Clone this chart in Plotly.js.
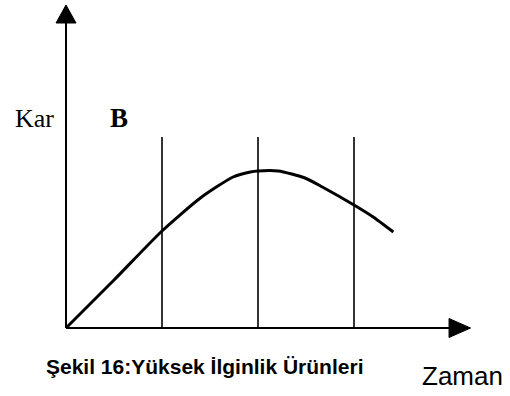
<!DOCTYPE html>
<html>
<head>
<meta charset="utf-8">
<script src="https://cdn.plot.ly/plotly-3.0.1.min.js"></script>
<style>
  html, body { margin: 0; padding: 0; background: #fff; }
  #chart { width: 510px; height: 396px; }
</style>
</head>
<body>
<div id="chart"></div>
<script>
// Profit (Kar) over time (Zaman) for high-involvement products
const time = [0, 0.5, 1.0, 1.4, 1.74, 1.92, 2.0, 2.21, 2.49, 2.67, 3.0, 3.2, 3.41];
const profit = [0, 4.8, 9.7, 13.0, 15.1, 15.6, 15.7, 15.7, 15.0, 14.1, 12.3, 11.1, 9.6];
// Stage boundaries drawn as vertical lines
const stageBoundaries = [1, 2, 3];
const stageLineTop = 19.1;
const yAxisLabel = 'Kar';
const xAxisLabel = 'Zaman';
const panelLetter = 'B';
const caption = 'Şekil 16:Yüksek İlginlik Ürünleri';

const xRange = [-0.6875, 4.625];
const yRange = [-6.8, 32.8];
const xArrowTip = 4.214, xArrowBase = 3.99;
const yArrowTip = 32.3, yArrowBase = 30.5;

const shapes = [];
// axes
shapes.push({type: 'line', x0: 0, x1: xArrowBase, y0: 0, y1: 0, line: {color: '#000', width: 2}});
shapes.push({type: 'line', x0: 0, x1: 0, y0: 0, y1: yArrowBase, line: {color: '#000', width: 2}});
// arrowheads
shapes.push({type: 'path', path: `M ${xArrowBase} 0.95 L ${xArrowTip} 0 L ${xArrowBase} -0.95 Z`,
  fillcolor: '#000', line: {color: '#000', width: 1}});
shapes.push({type: 'path', path: `M -0.104 ${yArrowBase} L 0 ${yArrowTip} L 0.104 ${yArrowBase} Z`,
  fillcolor: '#000', line: {color: '#000', width: 1}});
// stage boundaries
stageBoundaries.forEach(t => {
  shapes.push({type: 'line', x0: t, x1: t, y0: 0, y1: stageLineTop, line: {color: '#000', width: 1.6}});
});

const trace = {
  x: time, y: profit, type: 'scatter', mode: 'lines',
  line: {color: '#000', width: 3, shape: 'spline', smoothing: 0.6},
  hoverinfo: 'skip'
};

const serif = 'Liberation Serif, Times New Roman, serif';
const sans = 'Liberation Sans, Arial, sans-serif';
const labels = [
  {text: yAxisLabel, x: 14, y: 134, font: {family: serif, size: 26, color: '#000'}},
  {text: '<b>' + panelLetter + '</b>', x: 109, y: 134, font: {family: serif, size: 27, color: '#000'}},
  {text: '<b>' + caption + '</b>', x: 45, y: 379, font: {family: sans, size: 21, color: '#000'}},
  {text: xAxisLabel, x: 421, y: 392, font: {family: sans, size: 26, color: '#000'}}
];
const annotations = labels.map(a => ({
  text: a.text,
  xref: 'paper', yref: 'paper',
  x: a.x / 510, y: 1 - a.y / 396,
  xanchor: 'left', yanchor: 'bottom',
  showarrow: false, borderpad: 0,
  font: a.font
}));

const layout = {
  width: 510, height: 396,
  margin: {l: 0, r: 0, t: 0, b: 0},
  paper_bgcolor: '#fff', plot_bgcolor: '#fff',
  showlegend: false,
  xaxis: {range: xRange, visible: false, fixedrange: true},
  yaxis: {range: yRange, visible: false, fixedrange: true},
  shapes: shapes,
  annotations: annotations
};

Plotly.newPlot('chart', [trace], layout, {staticPlot: true, displayModeBar: false});
</script>
</body>
</html>
